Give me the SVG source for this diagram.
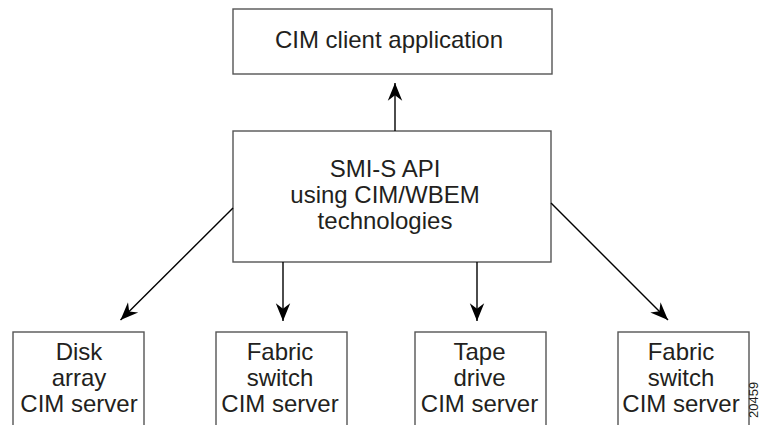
<svg xmlns="http://www.w3.org/2000/svg" width="762" height="425" viewBox="0 0 762 425">
<style>
.box{fill:#fff;stroke:#555;stroke-width:1.4}
.t{font-family:"Liberation Sans",Arial,sans-serif;font-size:24px;fill:#231f20;text-anchor:middle}
.c{stroke:#000;stroke-width:1.4;fill:none;marker-end:url(#ah)}
.id{font-family:"Liberation Sans",Arial,sans-serif;font-size:13px;fill:#231f20}
</style>
<defs>
<marker id="ah" markerUnits="userSpaceOnUse" markerWidth="20" markerHeight="20" viewBox="-16 -8 18 16" refX="0" refY="0" orient="auto">
<path d="M0,0 L-16,-6.5 L-11,0 L-16,6.5 Z" fill="#000"/>
</marker>
</defs>
<rect width="762" height="425" fill="#fff"/>
<g id="client">
<rect class="box" x="233" y="9" width="319" height="65"/>
<text class="t" x="389" y="48">CIM client application</text>
</g>
<g id="smis">
<rect class="box" x="233" y="131" width="318" height="131"/>
<text class="t" x="385" y="177">SMI-S API</text>
<text class="t" x="385" y="203">using CIM/WBEM</text>
<text class="t" x="385" y="229">technologies</text>
</g>
<g id="disk">
<rect class="box" x="13" y="332" width="131" height="110"/>
<text class="t" x="79" y="360">Disk</text>
<text class="t" x="79" y="386">array</text>
<text class="t" x="79" y="412">CIM server</text>
</g>
<g id="fabric1">
<rect class="box" x="216" y="332" width="131" height="110"/>
<text class="t" x="280" y="360">Fabric</text>
<text class="t" x="280" y="386">switch</text>
<text class="t" x="280" y="412">CIM server</text>
</g>
<g id="tape">
<rect class="box" x="415" y="332" width="131" height="110"/>
<text class="t" x="479.5" y="360">Tape</text>
<text class="t" x="479.5" y="386">drive</text>
<text class="t" x="479.5" y="412">CIM server</text>
</g>
<g id="fabric2">
<rect class="box" x="618" y="332" width="131" height="110"/>
<text class="t" x="681" y="360">Fabric</text>
<text class="t" x="681" y="386">switch</text>
<text class="t" x="681" y="412">CIM server</text>
</g>
<g id="connectors">
<line class="c" x1="395" y1="131" x2="395" y2="83"/>
<line class="c" x1="233" y1="208" x2="120.5" y2="320"/>
<line class="c" x1="283" y1="262" x2="283" y2="321"/>
<line class="c" x1="477" y1="262" x2="477" y2="321"/>
<line class="c" x1="551" y1="203" x2="668" y2="320"/>
</g>
<text class="id" transform="translate(758,418) rotate(-90)">20459</text>
</svg>
